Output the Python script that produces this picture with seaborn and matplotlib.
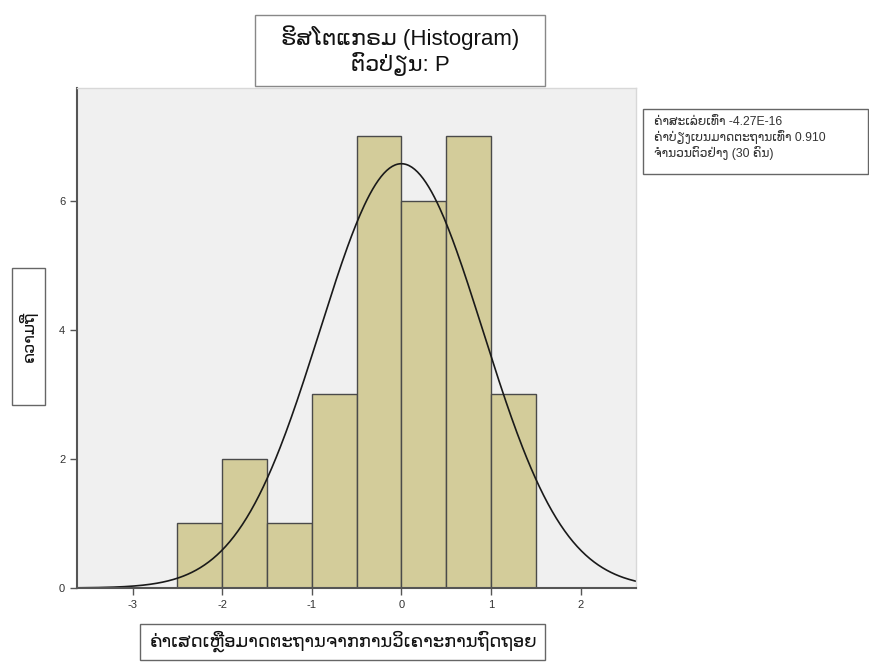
import numpy as np
import pandas as pd
import matplotlib
matplotlib.use("Agg")
import matplotlib.pyplot as plt
from matplotlib.patches import Rectangle
import seaborn as sns

# Data
bin_edges = [-2.5, -2.0, -1.5, -1.0, -0.5, 0.0, 0.5, 1.0, 1.5]
bin_counts = [1, 2, 1, 3, 7, 6, 7, 3]
mean_val = -4.27e-16
std_val = 0.910
n_obs = 30
x_ticks = [-3, -2, -1, 0, 1, 2]
y_ticks = [0, 2, 4, 6]

title_text = "ຮິສໂຕແກຣມ (Histogram)\nຕົວປ່ຽນ: P"
y_label = "ຄວາມຖີ່"
x_label = "ຄ່າເສດເຫຼືອມາດຕະຖານຈາກການວິເຄາະການຖົດຖອຍ"
stats_lines = ["ຄ່າສະເລ່ຍເທົ່າ -4.27E-16",
               "ຄ່າບ່ຽງເບນມາດຕະຖານເທົ່າ 0.910",
               "ຈຳນວນຕົວຢ່າງ (30 ຄົນ)"]

sns.set_theme(style="white")
plt.rcParams['font.family'] = ['Liberation Sans', 'DejaVu Sans']
plt.rcParams['axes.unicode_minus'] = False

W, H = 869, 664
fig = plt.figure(figsize=(W / 100, H / 100), dpi=100)
ax = fig.add_axes([0.0886, 0.1145, 0.6434, 0.753])
ax.set_facecolor("#f0f0f0")

centers = [(bin_edges[i] + bin_edges[i + 1]) / 2 for i in range(len(bin_counts))]
df = pd.DataFrame({"x": centers, "w": bin_counts})
sns.histplot(data=df, x="x", weights="w", bins=bin_edges, ax=ax,
             color="#d3cc9a", alpha=1.0, edgecolor="#4a4a4a", linewidth=1.0)

# Fitted normal curve
bw = bin_edges[1] - bin_edges[0]
xs = np.linspace(-3.62, 2.62, 400)
ys = n_obs * bw * np.exp(-0.5 * ((xs - mean_val) / std_val) ** 2) / (std_val * np.sqrt(2 * np.pi))
sns.lineplot(x=xs, y=ys, ax=ax, color="#1a1a1a", linewidth=1.2)

ax.set_xlim(-3.62, 2.62)
ax.set_ylim(0, 7.75)
ax.set_xticks(x_ticks)
ax.set_yticks(y_ticks)
ax.set_xlabel("")
ax.set_ylabel("")
ax.tick_params(axis="both", which="both", direction="out", length=5, width=1,
               color="#555555", labelsize=8, labelcolor="#333333", bottom=True, left=True)
for side in ["left", "bottom"]:
    ax.spines[side].set_color("#555555")
    ax.spines[side].set_linewidth(1.5)
for side in ["top", "right"]:
    ax.spines[side].set_color("#d8d8d8")
    ax.spines[side].set_linewidth(1.0)


def px_box(x0, y0, x1, y1, ec="#666666"):
    fig.patches.append(Rectangle((x0 / W, 1 - y1 / H), (x1 - x0) / W, (y1 - y0) / H,
                                 transform=fig.transFigure, facecolor="white",
                                 edgecolor=ec, linewidth=1.0, zorder=0))


# Title box
px_box(255, 15, 545, 86, ec="#888888")
fig.text(400 / W, 1 - 51 / H, title_text, ha="center", va="center", fontsize=16,
         color="#111111", linespacing=1.1)

# Y label box
px_box(12, 268, 45, 405)
fig.text(28.5 / W, 1 - 336 / H, y_label, ha="center", va="center", rotation=90,
         fontsize=11.5, color="#111111")

# X label box
px_box(140, 624, 545, 660)
fig.text(344 / W, 1 - 641 / H, x_label, ha="center", va="center", fontsize=13,
         color="#111111")

# Stats box
px_box(643, 109, 868, 174)
fig.text(654 / W, 1 - 138 / H, "\n".join(stats_lines), ha="left", va="center",
         fontsize=8.8, color="#333333", linespacing=1.2)

fig.savefig("out.png", dpi=100)
